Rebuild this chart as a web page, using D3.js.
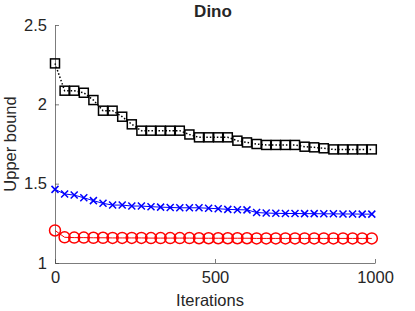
<!DOCTYPE html>
<html>
<head>
<meta charset="utf-8">
<script src="https://cdn.jsdelivr.net/npm/d3@7"></script>
<style>
  body { margin: 0; background: #fff; }
  text { font-family: "Liberation Sans", Arial, sans-serif; fill: #262626; }
</style>
</head>
<body>
<div id="chart"></div>
<script>
// markers every 30 iterations
const iters = d3.range(0, 1000, 30);
const black = [2.258, 2.086, 2.086, 2.073, 2.027, 1.96, 1.96, 1.922, 1.874, 1.834,
  1.834, 1.834, 1.834, 1.834, 1.81, 1.792, 1.792, 1.792, 1.792, 1.771,
  1.76, 1.75, 1.744, 1.744, 1.744, 1.744, 1.733, 1.729, 1.723, 1.716,
  1.716, 1.716, 1.716, 1.716];
const blue = [1.464, 1.435, 1.428, 1.411, 1.393, 1.376, 1.365, 1.365, 1.359, 1.359,
  1.355, 1.352, 1.35, 1.348, 1.348, 1.348, 1.345, 1.342, 1.338, 1.336,
  1.335, 1.318, 1.315, 1.313, 1.312, 1.312, 1.311, 1.311, 1.31, 1.31,
  1.309, 1.309, 1.308, 1.308];
const red = [1.205, 1.162, 1.16, 1.16, 1.159, 1.159, 1.158, 1.158, 1.158, 1.158,
  1.157, 1.157, 1.157, 1.157, 1.157, 1.156, 1.156, 1.156, 1.156, 1.156,
  1.156, 1.155, 1.155, 1.155, 1.155, 1.155, 1.155, 1.155, 1.155, 1.155,
  1.155, 1.155, 1.155, 1.155];
const xTicks = [0, 500, 1000];
const yTicks = [1, 1.5, 2, 2.5];

const W = 415, H = 311;
const margin = { top: 25, right: 40, bottom: 48, left: 55 };

const svg = d3.select("#chart").append("svg")
  .attr("width", W).attr("height", H);

const x = d3.scaleLinear().domain([0, 1000]).range([margin.left, W - margin.right]);
const y = d3.scaleLinear().domain([1, 2.5]).range([H - margin.bottom, margin.top]);

// axes, ticks pointing inward like matlab
const xAxis = svg.append("g")
  .attr("transform", `translate(0,${H - margin.bottom})`)
  .call(d3.axisBottom(x).tickValues(xTicks).tickSizeInner(-4).tickSizeOuter(0).tickPadding(8)
    .tickFormat(d3.format("d")));
const yAxis = svg.append("g")
  .attr("transform", `translate(${margin.left},0)`)
  .call(d3.axisLeft(y).tickValues(yTicks).tickSizeInner(-4).tickSizeOuter(0).tickPadding(8)
    .tickFormat(d3.format("")));
[xAxis, yAxis].forEach(a => {
  a.select(".domain").attr("stroke", "#444").attr("stroke-width", 0.7);
  a.selectAll(".tick line").attr("stroke", "#444").attr("stroke-width", 0.7);
  a.selectAll(".tick text").style("font-size", "16.5px").attr("fill", "#262626");
});

svg.append("text").attr("x", 213).attr("y", 17).attr("text-anchor", "middle")
  .style("font-size", "17px").style("font-weight", "bold").attr("fill", "#000").text("Dino");
svg.append("text").attr("x", (x(0) + x(1000)) / 2 - 5).attr("y", 306).attr("text-anchor", "middle")
  .style("font-size", "16.5px").text("Iterations");
svg.append("text").attr("transform", `translate(16,${(y(1) + y(2.5)) / 2}) rotate(-90)`)
  .attr("text-anchor", "middle").style("font-size", "16.5px").text("Upper bound");

const line = d3.line().x((d, i) => x(iters[i])).y(d => y(d));

// black: dotted line + squares
svg.append("path").datum(black).attr("d", line)
  .attr("fill", "none").attr("stroke", "#000").attr("stroke-width", 1.5)
  .attr("stroke-dasharray", "1.5,2");
svg.append("g").selectAll("rect").data(black).join("rect")
  .attr("x", (d, i) => x(iters[i]) - 4.5).attr("y", d => y(d) - 4.5)
  .attr("width", 9).attr("height", 9)
  .attr("fill", "none").attr("stroke", "#000").attr("stroke-width", 1.5);

// blue: line + crosses
svg.append("path").datum(blue).attr("d", line)
  .attr("fill", "none").attr("stroke", "#0000ff").attr("stroke-width", 1);
svg.append("g").selectAll("path").data(blue).join("path")
  .attr("d", (d, i) => {
    const cx = x(iters[i]), cy = y(d), s = 3.5;
    return `M${cx - s},${cy - s}L${cx + s},${cy + s}M${cx - s},${cy + s}L${cx + s},${cy - s}`;
  })
  .attr("stroke", "#0000ff").attr("stroke-width", 1.5);

// red: line + circles
svg.append("path").datum(red).attr("d", line)
  .attr("fill", "none").attr("stroke", "#ff0000").attr("stroke-width", 1);
svg.append("g").selectAll("circle").data(red).join("circle")
  .attr("cx", (d, i) => x(iters[i])).attr("cy", d => y(d)).attr("r", 5.5)
  .attr("fill", "none").attr("stroke", "#ff0000").attr("stroke-width", 1.5);
</script>
</body>
</html>
